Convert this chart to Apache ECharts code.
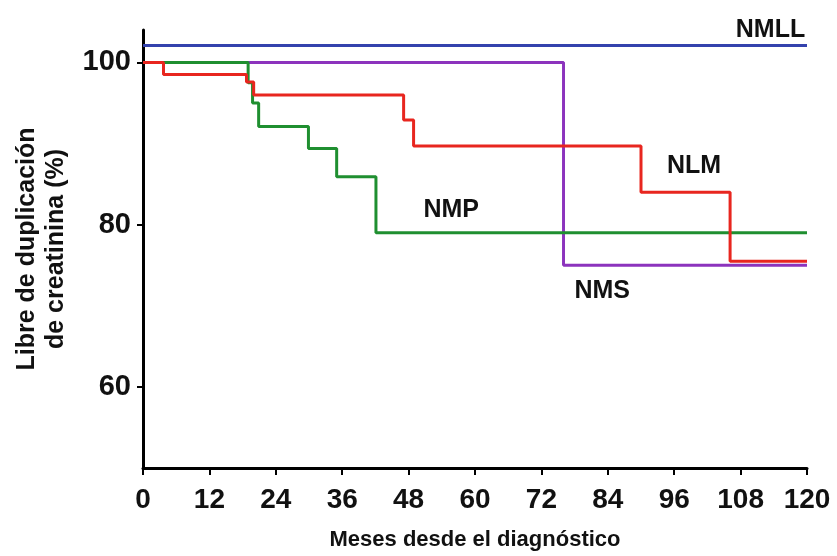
<!DOCTYPE html>
<html>
<head>
<meta charset="utf-8">
<script src="https://cdn.jsdelivr.net/npm/echarts@6/dist/echarts.min.js"></script>
<style>
  html, body { margin: 0; padding: 0; background: #fff; }
  #chart { width: 837px; height: 556px; }
</style>
</head>
<body>
<div id="chart"></div>
<script>
// meses / porcentaje libre de duplicacion
var xTicks = [0, 12, 24, 36, 48, 60, 72, 84, 96, 108, 120];
var yTicks = [60, 80, 100];

var nmll = [[0, 102.1], [120, 102.1]];
var nms = [[0, 100], [76, 75.0], [120, 75.0]];
var nlm = [[0, 100], [3.7, 98.5], [18.7, 97.6], [20, 96.0], [47.1, 92.9], [48.9, 89.7], [90, 84.0], [106.1, 75.5], [120, 75.5]];
var nmp = [[0, 100], [19, 97.5], [19.8, 95.0], [20.9, 92.1], [29.9, 89.4], [35, 85.9], [42.1, 79.0], [120, 79.0]];

var labels = [
    { name: 'NMLL', value: [113.4, 104.0] },
    { name: 'NLM', value: [99.6, 87.2] },
    { name: 'NMP', value: [55.7, 81.8] },
    { name: 'NMS', value: [83.0, 71.8] }
];

var font = '"Liberation Sans", Arial, sans-serif';

var chart = echarts.init(document.getElementById('chart'));

function km(name, data, color) {
    return {
        name: name,
        type: 'line',
        step: 'end',
        data: data,
        symbol: 'none',
        lineStyle: { color: color, width: 3 },
        z: 3
    };
}

chart.setOption({
    backgroundColor: '#fff',
    animation: false,
    grid: { left: 143, right: 30, top: 30, bottom: 87 },
    xAxis: {
        type: 'value',
        min: 0,
        max: 120,
        interval: 12,
        name: 'Meses desde el diagnóstico',
        nameLocation: 'middle',
        nameGap: 61,
        nameTextStyle: { color: '#111', fontSize: 22, fontWeight: 'bold', fontFamily: font },
        axisLine: { lineStyle: { color: '#000', width: 3 } },
        axisTick: { length: 7, lineStyle: { color: '#000', width: 2 } },
        axisLabel: { color: '#111', fontSize: 28, fontWeight: 'bold', fontFamily: font, margin: 18 },
        splitLine: { show: false }
    },
    yAxis: {
        type: 'value',
        min: 50,
        max: 104,
        name: 'Libre de duplicación\nde creatinina (%)',
        nameLocation: 'middle',
        nameGap: 72,
        nameRotate: 90,
        nameTextStyle: { color: '#111', fontSize: 25, fontWeight: 'bold', fontFamily: font, lineHeight: 29 },
        axisLine: { onZero: false, lineStyle: { color: '#000', width: 3 } },
        axisTick: { length: 6, customValues: yTicks, lineStyle: { color: '#000', width: 2 } },
        axisLabel: { customValues: yTicks, color: '#111', fontSize: 29, fontWeight: 'bold', fontFamily: font, margin: 12 },
        splitLine: { show: false }
    },
    series: [
        km('NMLL', nmll, '#3442ad'),
        km('NMS', nms, '#8c33bd'),
        km('NMP', nmp, '#1f8f30'),
        km('NLM', nlm, '#e8261f'),
        {
            type: 'scatter',
            data: labels,
            symbolSize: 0,
            silent: true,
            z: 5,
            itemStyle: { opacity: 1 },
            label: {
                show: true,
                position: 'inside',
                formatter: '{b}',
                color: '#111',
                opacity: 1,
                fontSize: 25,
                fontWeight: 'bold',
                fontFamily: font
            }
        }
    ]
});
</script>
</body>
</html>
